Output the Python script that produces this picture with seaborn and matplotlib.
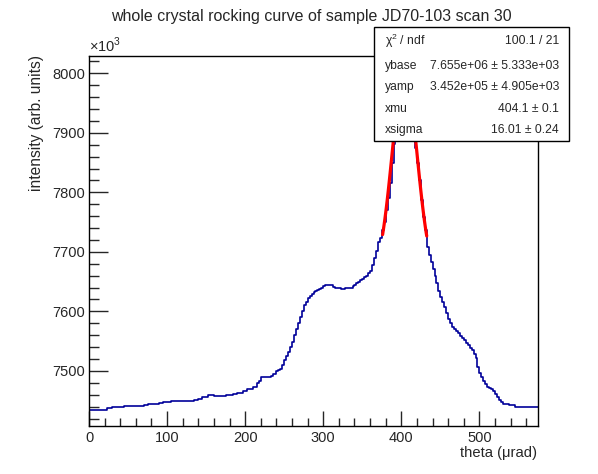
import numpy as np
import pandas as pd
import matplotlib
matplotlib.use("Agg")
import matplotlib.pyplot as plt
from matplotlib.patches import Rectangle
from matplotlib.ticker import MultipleLocator
import seaborn as sns

# histogram: 230 bins of 2.5 urad, intensity in units of 10^3
bin_width = 2.5
theta_min, theta_max = 0.0, 575.0
intensity_k = [
    7435, 7435, 7435, 7435, 7435, 7435, 7435, 7435, 7435, 7437,
    7437, 7437, 7439, 7439, 7439, 7439, 7439, 7439, 7441, 7441,
    7441, 7441, 7441, 7441, 7441, 7441, 7441, 7441, 7442, 7442,
    7444, 7444, 7444, 7444, 7444, 7444, 7446, 7446, 7447, 7447,
    7447, 7447, 7449, 7449, 7449, 7449, 7449, 7449, 7449, 7449,
    7450, 7449, 7449, 7449, 7451, 7451, 7453, 7453, 7457, 7457,
    7457, 7459, 7459, 7459, 7458, 7458, 7458, 7458, 7458, 7458,
    7459, 7459, 7459, 7459, 7462, 7462, 7463, 7463, 7463, 7466,
    7466, 7469, 7469, 7469, 7473, 7473, 7479, 7483, 7489, 7489,
    7489, 7489, 7489, 7492, 7495, 7495, 7500, 7502, 7504, 7510,
    7518, 7525, 7532, 7540, 7548, 7560, 7570, 7580, 7591, 7601,
    7610, 7616, 7622, 7626, 7630, 7633, 7635, 7636, 7638, 7640,
    7642, 7644, 7644, 7644, 7644, 7641, 7639, 7639, 7639, 7637,
    7637, 7639, 7639, 7640, 7640, 7643, 7645, 7647, 7649, 7652,
    7654, 7657, 7660, 7664, 7668, 7678, 7689, 7702, 7716, 7724,
    7737, 7751, 7770, 7790, 7815, 7849, 7882, 7915, 7945, 7970,
    7990, 8000, 7998, 7985, 7965, 7935, 7905, 7875, 7849, 7821,
    7787, 7759, 7737, 7709, 7695, 7683, 7671, 7660, 7647, 7635,
    7625, 7615, 7608, 7598, 7587, 7580, 7574, 7570, 7567, 7563,
    7558, 7555, 7552, 7547, 7543, 7539, 7535, 7528, 7521, 7507,
    7497, 7490, 7483, 7478, 7473, 7471, 7469, 7466, 7462, 7456,
    7451, 7447, 7445, 7444, 7444, 7442, 7442, 7442, 7440, 7440,
    7440, 7440, 7440, 7440, 7440, 7440, 7440, 7440, 7440, 7440,
]

# fit parameters (from stats box)
ybase = 7.655e6
yamp = 3.452e5
xmu = 404.1
xsigma = 16.01
fit_lo, fit_hi = 376.0, 432.5

stat_names = ["χ$^2$ / ndf", "ybase", "yamp", "xmu", "xsigma"]
stat_values = ["100.1 / 21", "7.655e+06 ± 5.333e+03", "3.452e+05 ± 4.905e+03",
               "404.1 ± 0.1", "16.01 ± 0.24"]

sns.set_theme(style="ticks")
plt.rcParams['font.family'] = ['Liberation Sans', 'DejaVu Sans']
plt.rcParams['mathtext.fontset'] = 'custom'
plt.rcParams['mathtext.rm'] = 'Liberation Sans'

centers = theta_min + bin_width * (np.arange(len(intensity_k)) + 0.5)
df = pd.DataFrame({'theta': centers, 'intensity': intensity_k})

fig = plt.figure(figsize=(5.98, 4.74), dpi=100)
ax = fig.add_axes([89 / 598, 1 - 425.7 / 474, (538 - 89) / 598, (425.7 - 56) / 474])

sns.histplot(data=df, x='theta', weights='intensity', binwidth=bin_width,
             binrange=(theta_min, theta_max), element='step', fill=False,
             color='#000099', linewidth=1.2, ax=ax)

# fit curve
xf = np.linspace(fit_lo, fit_hi, 60)
yf = (ybase + yamp * np.exp(-0.5 * ((xf - xmu) / xsigma) ** 2)) / 1e3
ax.plot(xf, yf, color='#ff0000', linewidth=2.3, zorder=3)

ax.set_xlim(theta_min, theta_max)
ax.set_ylim(7408, 8029)
ax.set_xlabel('')
ax.set_ylabel('')

ax.xaxis.set_major_locator(MultipleLocator(100))
ax.xaxis.set_minor_locator(MultipleLocator(20))
ax.yaxis.set_major_locator(MultipleLocator(100))
ax.yaxis.set_minor_locator(MultipleLocator(20))
ax.tick_params(axis='x', which='major', direction='in', length=11, width=1, labelsize=10.5, pad=4, top=False)
ax.tick_params(axis='x', which='minor', direction='in', length=5.5, width=1, top=False)
ax.tick_params(axis='y', which='major', direction='in', length=14, width=1, labelsize=10.5, pad=3, right=False)
ax.tick_params(axis='y', which='minor', direction='in', length=7, width=1, right=False)
for s in ax.spines.values():
    s.set_color('black')
    s.set_linewidth(1)

ax.text(0.0, 1.003, r'$\times10^3$', transform=ax.transAxes, ha='left', va='bottom', fontsize=10.5)

fig.text(311 / 598, 1 - 16 / 474, 'whole crystal rocking curve of sample JD70-103 scan 30',
         ha='center', va='center', fontsize=11.5)
fig.text(37 / 598, 1 - 55 / 474, 'intensity (arb. units)', rotation=90,
         ha='center', va='top', fontsize=11.2)
fig.text(537 / 598, 1 - 453 / 474, 'theta (μrad)', ha='right', va='center', fontsize=10.6)

# stats box
bx0, bx1 = 374 / 598, 569 / 598
by0, by1 = 1 - 141 / 474, 1 - 27 / 474
fig.patches.append(Rectangle((bx0, by0), bx1 - bx0, by1 - by0, transform=fig.transFigure,
                             facecolor='white', edgecolor='black', linewidth=1, zorder=10))
row_y = [41, 65.7, 87, 109, 130]
for name, val, py in zip(stat_names, stat_values, row_y):
    fig.text(385 / 598, 1 - py / 474, name, ha='left', va='center', fontsize=8.7, zorder=11)
    fig.text(559 / 598, 1 - py / 474, val, ha='right', va='center', fontsize=8.7, zorder=11)

fig.savefig('out.png', dpi=100)
